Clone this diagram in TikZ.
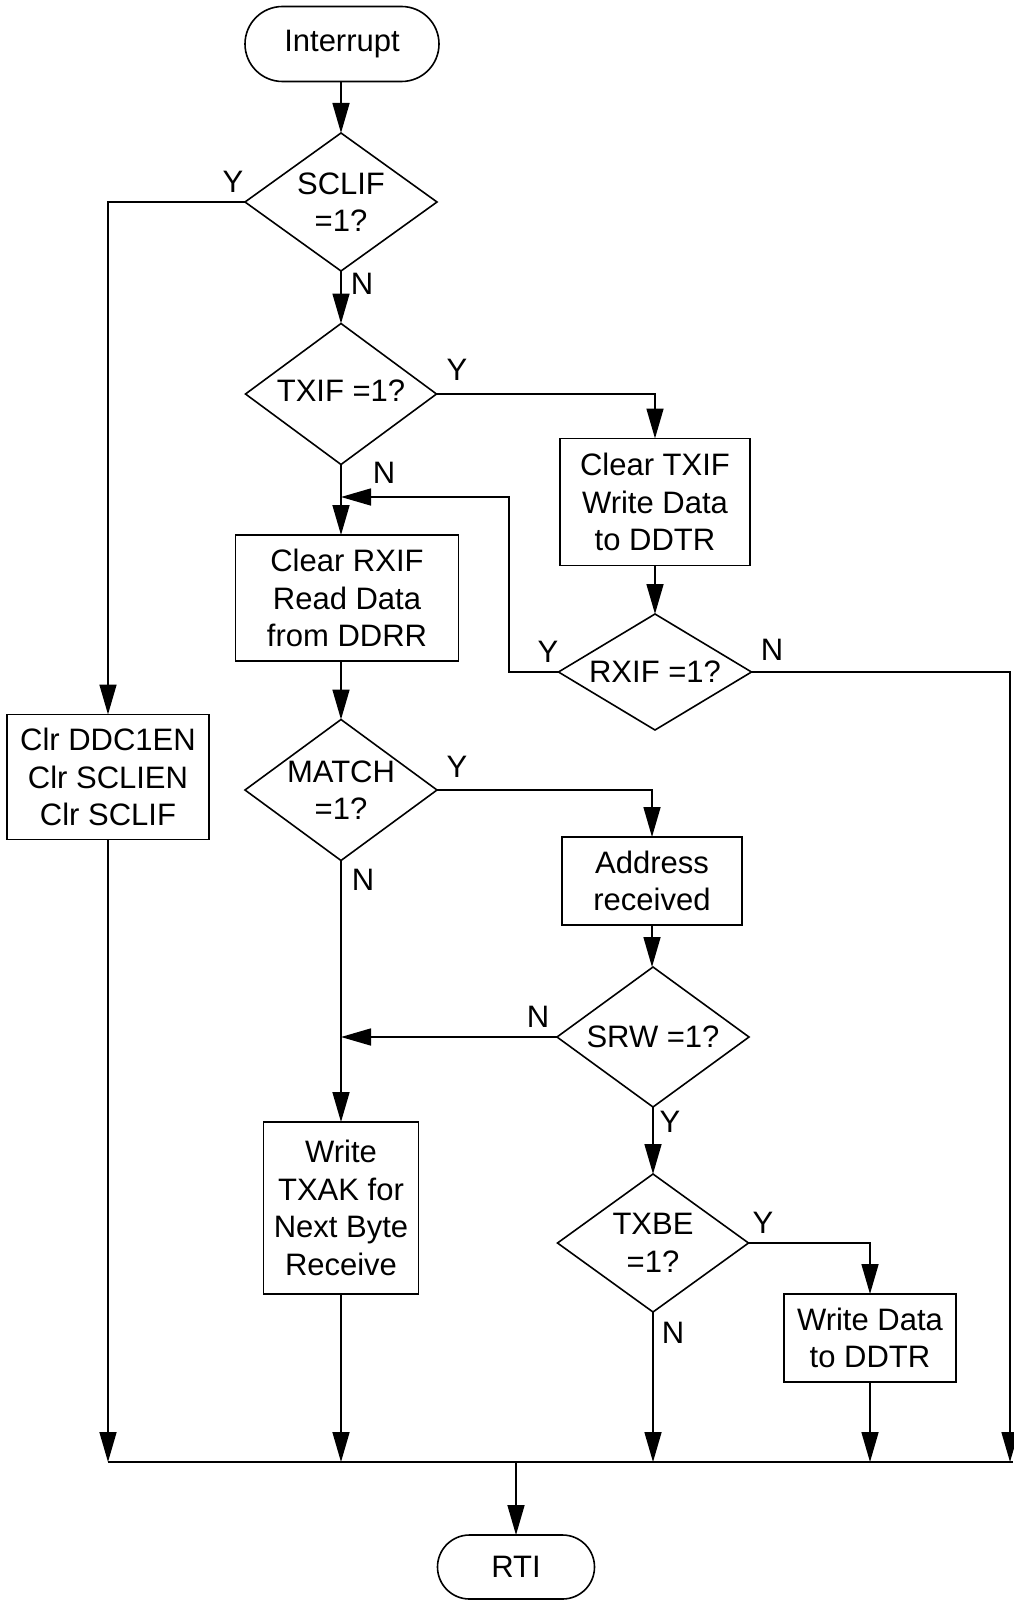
\documentclass[tikz,border=0pt]{standalone}
\usepackage{fontspec}
\setmainfont{Liberation Sans}
\usetikzlibrary{shapes.geometric,arrows.meta}
\begin{document}
\begin{tikzpicture}[x=1pt,y=-1pt,
  every node/.style={font=\fontsize{31}{37.5}\selectfont, inner sep=0pt, outer sep=0pt},
  conn/.style={line width=1.6pt},
  arr/.style={conn, -{Triangle[length=30pt,width=17pt]}},
  box/.style={draw, line width=1.6pt, rectangle, align=center},
  dec/.style={draw, line width=1.6pt, diamond, align=center},
  term/.style={draw, line width=1.6pt, rectangle, align=center},
  lbl/.style={}]
\useasboundingbox (0,0) rectangle (1013,1600);

% nodes
\node[term, minimum width=194pt, minimum height=75pt, rounded corners=37.5pt] (intr) at (342,44) {Interrupt};
\node[dec, minimum width=192pt, minimum height=138pt, shape aspect=1.39] (d1) at (341,202) {SCLIF\\=1?};
\node[dec, minimum width=191pt, minimum height=141pt, shape aspect=1.35] (d2) at (341,394) {\raisebox{6pt}{TXIF =1?}};
\node[box, minimum width=190pt, minimum height=127pt] (b1) at (655,502) {Clear TXIF\\Write Data\\to DDTR};
\node[dec, minimum width=193pt, minimum height=116pt, shape aspect=1.66] (d3) at (655,672) {RXIF =1?};
\node[box, minimum width=223pt, minimum height=126pt] (b2) at (347,598) {Clear RXIF\\Read Data\\from DDRR};
\node[dec, minimum width=192pt, minimum height=141pt, shape aspect=1.36] (d4) at (341,790) {MATCH\\=1?};
\node[box, minimum width=180pt, minimum height=88pt] (b3) at (652,881) {Address\\received};
\node[dec, minimum width=192pt, minimum height=140pt, shape aspect=1.37] (d5) at (653,1037) {SRW =1?};
\node[dec, minimum width=191pt, minimum height=138pt, shape aspect=1.38] (d6) at (653,1243) {TXBE\\=1?};
\node[box, minimum width=172pt, minimum height=88pt] (b5) at (870,1338) {Write Data\\to DDTR};
\node[box, minimum width=155pt, minimum height=172pt] (b4) at (341,1208) {Write\\TXAK for\\Next Byte\\Receive};
\node[box, minimum width=202pt, minimum height=125pt] (b0) at (108,777) {Clr DDC1EN\\Clr SCLIEN\\Clr SCLIF};
\node[term, minimum width=157pt, minimum height=64pt, rounded corners=32pt] (rti) at (516,1567) {RTI};

% labels
\node[lbl] (l1) at (233,182) {Y};
\node[lbl] (l2) at (362,284) {N};
\node[lbl] (l3) at (457,370) {Y};
\node[lbl] (l4) at (384,473) {N};
\node[lbl] (l5) at (548,652) {Y};
\node[lbl] (l6) at (772,650) {N};
\node[lbl] (l7) at (457,767) {Y};
\node[lbl] (l8) at (363,880) {N};
\node[lbl] (l9) at (538,1017) {N};
\node[lbl] (l10) at (670,1122) {Y};
\node[lbl] (l11) at (763,1223) {Y};
\node[lbl] (l12) at (673,1333) {N};

% helper coordinates
\coordinate (bus) at (0,1462);
\coordinate (busE) at (1013,1462);
\coordinate (bR) at (1010,1462);
\coordinate (j1) at (341,497);
\coordinate (lp) at (509,497);
\coordinate (j2) at (341,1037);

% connectors
\draw[arr] (intr.south -| d1.north) -- (d1.north);
\draw[arr] (d1.west) -| (b0.north);
\draw[arr] (d1.south) -- (d2.north);
\draw[arr] (d2.east) -| (b1.north);
\draw[arr] (d2.south) -- (d2.south |- b2.north);
\draw[arr] (b1.south) -- (b1.south |- d3.north);
\draw[arr] (d3.west) -| (lp) -- (j1);
\draw[arr] (d3.east) -| (bR);
\draw[arr] (d4.north |- b2.south) -- (d4.north);
\draw[arr] (d4.east) -| (b3.north);
\draw[arr] (d4.south) -- (b4.north);
\draw[arr] (b3.south) -- (b3.south |- d5.north);
\draw[arr] (d5.west) -- (j2);
\draw[arr] (d5.south) -- (d6.north);
\draw[arr] (d6.east) -| (b5.north);
\draw[arr] (b0.south) -- (b0.south |- bus);
\draw[arr] (b4.south) -- (b4.south |- bus);
\draw[arr] (d6.south) -- (d6.south |- bus);
\draw[arr] (b5.south) -- (b5.south |- bus);
\draw[conn] (b0.south |- bus) -- (busE);
\draw[arr] (rti.north |- bus) -- (rti.north);
\end{tikzpicture}
\end{document}
